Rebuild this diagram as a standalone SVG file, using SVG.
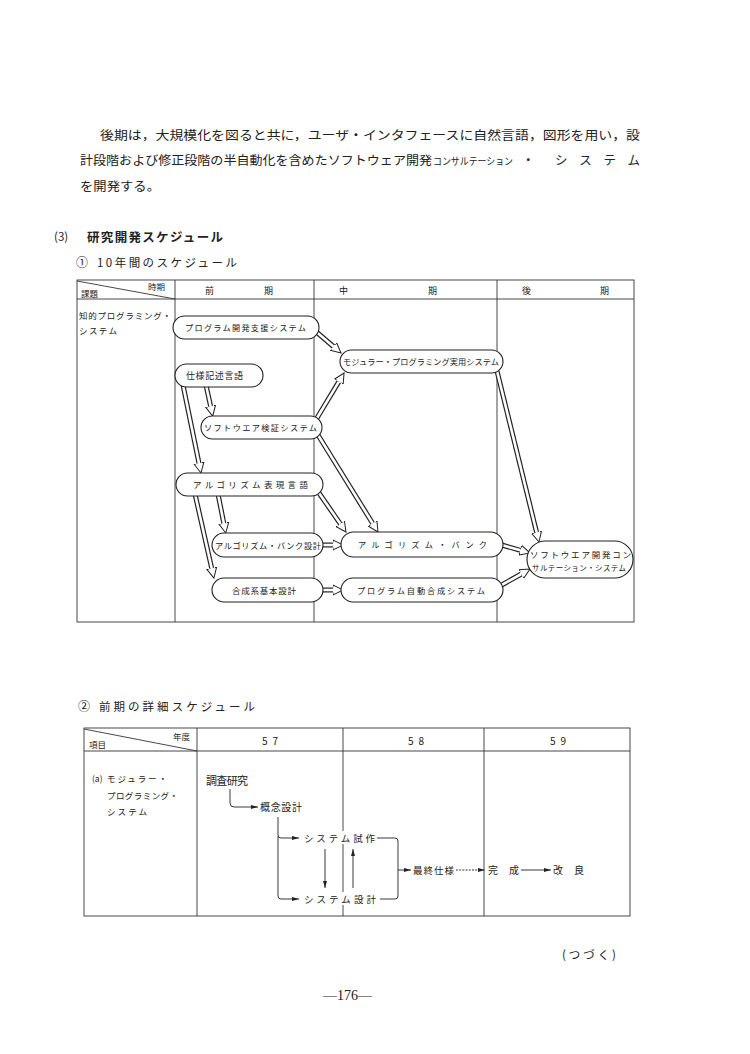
<svg xmlns="http://www.w3.org/2000/svg" width="750" height="1054" viewBox="0 0 750 1054">
<style>
.t{font-family:"Noto Sans CJK JP","Noto Sans",sans-serif;fill:#222}
.s{font-family:"Liberation Serif","Noto Sans CJK JP",serif;fill:#222}
.grid{stroke:#333;stroke-width:0.9;fill:none}
.node{fill:#fff;stroke:#222;stroke-width:1.1}
.ob{stroke:#222;stroke-width:5;fill:none;marker-end:url(#ha)}
.ib{stroke:#fff;stroke-width:2.6;fill:none}
.thin{stroke:#222;stroke-width:0.9;fill:none}
</style>
<defs>
<marker id="ha" markerUnits="userSpaceOnUse" markerWidth="14" markerHeight="14" viewBox="0 0 14 14" refX="0" refY="7" orient="auto">
<path d="M0,4.5 L0,2 L10,7 L0,12 L0,9.5" fill="#fff" stroke="#222" stroke-width="1"/>
</marker>
<marker id="ta" markerUnits="userSpaceOnUse" markerWidth="8" markerHeight="6" viewBox="0 0 8 6" refX="7" refY="3" orient="auto">
<path d="M0,1 L7,3 L0,5 z" fill="#222"/>
</marker>
</defs>
<rect width="750" height="1054" fill="#fff"/>

<!-- paragraph -->
<g id="paragraph">
<text class="t" x="100" y="140" font-size="12.5" textLength="540" lengthAdjust="spacingAndGlyphs">後期は，大規模化を図ると共に，ユーザ・インタフェースに自然言語，図形を用い，設</text>
<text class="t" x="80" y="165" font-size="12.5" textLength="352" lengthAdjust="spacingAndGlyphs">計段階および修正段階の半自動化を含めたソフトウェア開発</text>
<text class="t" x="433" y="165" font-size="10" textLength="80" lengthAdjust="spacingAndGlyphs">コンサルテーション</text>
<text class="t" x="522" y="165" font-size="12.5">・</text>
<text class="t" x="555" y="165" font-size="12.5" textLength="85" lengthAdjust="spacing">システム</text>
<text class="t" x="80" y="191" font-size="12.5" textLength="80" lengthAdjust="spacingAndGlyphs">を開発する。</text>
</g>

<g id="headings">
<text class="t" x="54" y="241" font-size="11.5">(3)</text>
<text class="t" x="87" y="242" font-size="12.5" font-weight="bold" textLength="136" lengthAdjust="spacing">研究開発スケジュール</text>
<text class="t" x="76" y="267" font-size="12">①</text>
<text class="t" x="97" y="267" font-size="11.5" textLength="140" lengthAdjust="spacing">10年間のスケジュール</text>
</g>

<!-- table 1 -->
<g id="table1">
<rect class="grid" x="77" y="280" width="557" height="342"/>
<line class="grid" x1="77" y1="299" x2="634" y2="299"/>
<line class="grid" x1="175" y1="280" x2="175" y2="622"/>
<line class="grid" x1="314" y1="280" x2="314" y2="622"/>
<line class="grid" x1="497" y1="280" x2="497" y2="622"/>
<line class="grid" x1="77" y1="281" x2="175" y2="299"/>
<text class="t" x="148" y="290" font-size="8.5">時期</text>
<text class="t" x="81" y="297" font-size="8.5">課題</text>
<text class="t" x="205" y="294" font-size="9">前</text>
<text class="t" x="264" y="294" font-size="9">期</text>
<text class="t" x="339" y="294" font-size="9">中</text>
<text class="t" x="428" y="294" font-size="9">期</text>
<text class="t" x="522" y="294" font-size="9">後</text>
<text class="t" x="600" y="294" font-size="9">期</text>
<text class="t" x="79" y="319" font-size="8.5" textLength="92" lengthAdjust="spacing">知的プログラミング・</text>
<text class="t" x="79" y="334" font-size="8.5" textLength="38" lengthAdjust="spacing">システム</text>
</g>

<!-- connectors -->
<g id="connectors">
<line class="ob" x1="313" y1="329" x2="333.4" y2="346.5"/><line class="ib" x1="313" y1="329" x2="333.4" y2="346.5"/>
<line class="ob" x1="317" y1="418" x2="338.9" y2="381.6"/><line class="ib" x1="317" y1="418" x2="338.9" y2="381.6"/>
<line class="ob" x1="206" y1="385" x2="210.6" y2="406.3"/><line class="ib" x1="206" y1="385" x2="210.6" y2="406.3"/>
<line class="ob" x1="183" y1="385" x2="199.0" y2="463.2"/><line class="ib" x1="183" y1="385" x2="199.0" y2="463.2"/>
<line class="ob" x1="318" y1="435" x2="372.7" y2="523.5"/><line class="ib" x1="318" y1="435" x2="372.7" y2="523.5"/>
<line class="ob" x1="319" y1="493" x2="340.3" y2="523.8"/><line class="ib" x1="319" y1="493" x2="340.3" y2="523.8"/>
<line class="ob" x1="218" y1="494" x2="223.8" y2="523.2"/><line class="ib" x1="218" y1="494" x2="223.8" y2="523.2"/>
<line class="ob" x1="195" y1="494" x2="211.7" y2="568.3"/><line class="ib" x1="195" y1="494" x2="211.7" y2="568.3"/>
<line class="ob" x1="320" y1="545" x2="333" y2="545"/><line class="ib" x1="320" y1="545" x2="333" y2="545"/>
<line class="ob" x1="320" y1="590" x2="333" y2="590"/><line class="ib" x1="320" y1="590" x2="333" y2="590"/>
<line class="ob" x1="500" y1="544.5" x2="520.4" y2="550.3"/><line class="ib" x1="500" y1="544.5" x2="520.4" y2="550.3"/>
<line class="ob" x1="500" y1="586" x2="521.3" y2="574.0"/><line class="ib" x1="500" y1="586" x2="521.3" y2="574.0"/>
<line class="ob" x1="497" y1="371" x2="536.6" y2="532.3"/><line class="ib" x1="497" y1="371" x2="536.6" y2="532.3"/>
</g>

<!-- nodes -->
<g id="n1"><rect class="node" x="173" y="316" width="146" height="23" rx="11.5"/>
<text class="t" x="185" y="331" font-size="8.2" textLength="121" lengthAdjust="spacing">プログラム開発支援システム</text></g>
<g id="n2"><rect class="node" x="340" y="350" width="163" height="23" rx="11.5"/>
<text class="t" x="343" y="365" font-size="8.2" textLength="156" lengthAdjust="spacing">モジュラー・プログラミング実用システム</text></g>
<g id="n3"><rect class="node" x="175" y="364" width="88" height="23" rx="11.5"/>
<text class="t" x="186" y="379" font-size="9" textLength="57" lengthAdjust="spacing">仕様記述言語</text></g>
<g id="n4"><rect class="node" x="201" y="416" width="121" height="23" rx="11.5"/>
<text class="t" x="204" y="431" font-size="8.2" textLength="113" lengthAdjust="spacing">ソフトウエア検証システム</text></g>
<g id="n5"><rect class="node" x="176" y="473" width="147" height="23" rx="11.5"/>
<text class="t" x="193" y="488" font-size="8.5" textLength="115" lengthAdjust="spacing">アルゴリズム表現言語</text></g>
<g id="n6"><rect class="node" x="212" y="533" width="111" height="24" rx="12"/>
<text class="t" x="215" y="548.5" font-size="8.2" textLength="106" lengthAdjust="spacing">アルゴリズム・バンク設計</text></g>
<g id="n7"><rect class="node" x="341" y="532" width="162" height="25" rx="12.5"/>
<text class="t" x="358" y="548" font-size="8.2" textLength="129" lengthAdjust="spacing">アルゴリズム・バンク</text></g>
<g id="n8"><rect class="node" x="212" y="578" width="111" height="24" rx="12"/>
<text class="t" x="232" y="593.5" font-size="8.5" textLength="64" lengthAdjust="spacing">合成系基本設計</text></g>
<g id="n9"><rect class="node" x="341" y="578" width="162" height="24" rx="12"/>
<text class="t" x="357" y="593.5" font-size="8.2" textLength="128" lengthAdjust="spacing">プログラム自動合成システム</text></g>
<g id="n10"><rect class="node" x="527" y="541" width="106" height="37" rx="18.5"/>
<text class="t" x="530" y="558" font-size="8.5" textLength="101" lengthAdjust="spacing">ソフトウエア開発コン</text>
<text class="t" x="532" y="571" font-size="7.5" textLength="94" lengthAdjust="spacing">サルテーション・システム</text></g>

<!-- table 2 -->
<g id="heading2">
<text class="t" x="78" y="711" font-size="12">②</text>
<text class="t" x="99" y="711" font-size="11.5" textLength="156" lengthAdjust="spacing">前期の詳細スケジュール</text>
</g>
<g id="table2">
<rect class="grid" x="84" y="728" width="546" height="188"/>
<line class="grid" x1="84" y1="751" x2="630" y2="751"/>
<line class="grid" x1="197" y1="728" x2="197" y2="916"/>
<line class="grid" x1="343" y1="728" x2="343" y2="916"/>
<line class="grid" x1="484" y1="728" x2="484" y2="916"/>
<line class="grid" x1="84" y1="729" x2="197" y2="751"/>
<text class="t" x="173" y="740" font-size="8.5">年度</text>
<text class="t" x="89" y="748" font-size="8.5">項目</text>
<text class="t" x="262" y="745" font-size="10" letter-spacing="5">57</text>
<text class="t" x="408" y="745" font-size="10" letter-spacing="5">58</text>
<text class="t" x="550" y="745" font-size="10" letter-spacing="5">59</text>
<text class="t" x="92" y="782" font-size="8.5">(a)</text>
<text class="t" x="107" y="782" font-size="8.5" textLength="60" lengthAdjust="spacing">モジュラー・</text>
<text class="t" x="107" y="799" font-size="8.5" textLength="71" lengthAdjust="spacing">プログラミング・</text>
<text class="t" x="107" y="815" font-size="8.5" textLength="40" lengthAdjust="spacing">システム</text>
</g>
<g id="flow-connectors">
<path class="thin" d="M230,789 V803 Q230,807 234,807 H258" marker-end="url(#ta)"/>
<path class="thin" d="M278,817 V835 Q278,838 281,838 H299" marker-end="url(#ta)"/>
<path class="thin" d="M278,836 V896 Q278,899 281,899 H299" marker-end="url(#ta)"/>
<path class="thin" d="M377,838 H395 Q398,838 398,841 V896 Q398,899 395,899 H380"/>
<path class="thin" d="M398,870 H411" marker-end="url(#ta)"/>
<path class="thin" d="M456,870 H485" stroke-dasharray="2,1.2" marker-end="url(#ta)"/>
<path class="thin" d="M521,870 H551" marker-end="url(#ta)"/>
<path class="thin" d="M325,849 V888" marker-end="url(#ta)"/>
<path class="thin" d="M353,888 V849" marker-end="url(#ta)"/>
</g>
<g id="f1"><text class="t" x="206" y="785" font-size="11" textLength="42" lengthAdjust="spacing">調査研究</text></g>
<g id="f2"><text class="t" x="260" y="811" font-size="10" textLength="42" lengthAdjust="spacing">概念設計</text></g>
<g id="f3"><rect x="302" y="831" width="74" height="13" fill="#fff"/><text class="t" x="304" y="842" font-size="9.5" textLength="71" lengthAdjust="spacing">システム試作</text></g>
<g id="f4"><rect x="302" y="892" width="76" height="13" fill="#fff"/><text class="t" x="304" y="903" font-size="9.5" textLength="72" lengthAdjust="spacing">システム設計</text></g>
<g id="f5"><text class="t" x="413" y="874" font-size="9.5" textLength="41" lengthAdjust="spacing">最終仕様</text></g>
<g id="f6"><text class="t" x="488" y="874" font-size="10" textLength="31" lengthAdjust="spacing">完成</text></g>
<g id="f7"><text class="t" x="553" y="874" font-size="10" textLength="31" lengthAdjust="spacing">改良</text></g>

<g id="footer">
<text class="t" x="562" y="959" font-size="11.5" textLength="54" lengthAdjust="spacing">(つづく)</text>
<text class="s" x="323" y="1000" font-size="14">—176—</text>
</g>
</svg>
